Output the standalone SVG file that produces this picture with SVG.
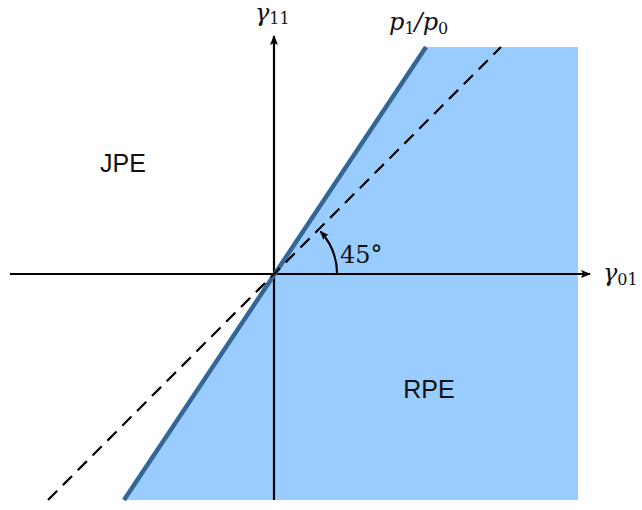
<svg xmlns="http://www.w3.org/2000/svg" width="642" height="510" viewBox="0 0 642 510">
<defs>
<marker id="ah" viewBox="0 0 10 10" refX="9" refY="5" markerWidth="10" markerHeight="10" markerUnits="userSpaceOnUse" orient="auto">
<path d="M0,1 L10,5 L0,9 L2,5 Z" fill="#000"/>
</marker>
<marker id="ah2" viewBox="0 0 10 10" refX="9" refY="5" markerWidth="9" markerHeight="9" markerUnits="userSpaceOnUse" orient="auto">
<path d="M0,1 L10,5 L0,9 L2,5 Z" fill="#000"/>
</marker>
</defs>
<style>
.lbl{font-family:"Liberation Sans",Arial,sans-serif;font-size:25px;fill:#111}
.math{font-family:"DejaVu Serif","Liberation Serif",serif;font-size:24px;fill:#111}
.sub{font-family:"DejaVu Serif","Liberation Serif",serif;font-size:16px;fill:#111}
.ax{stroke:#000;stroke-width:2.2;fill:none}
</style>
<rect width="642" height="510" fill="#fff"/>
<g id="rpe-region">
<polygon points="124,500 426,47 578,47 578,500" fill="#99ccff"/>
</g>
<g id="connectors">
<line class="ax" x1="10" y1="274" x2="590" y2="274" marker-end="url(#ah)"/>
<line class="ax" x1="274" y1="500" x2="274" y2="36" marker-end="url(#ah)"/>
<line x1="124" y1="500" x2="426" y2="47" stroke="#336699" stroke-width="4.5"/>
<line x1="48" y1="500" x2="501" y2="47" stroke="#000" stroke-width="2.2" stroke-dasharray="13,8"/>
<path d="M337,274 A63,63 0 0 0 320.5,231.5" class="ax" stroke-width="1.8" marker-end="url(#ah2)"/>
</g>
<g id="label-gamma11">
<text x="255" y="21" class="math" font-style="italic">γ<tspan class="sub" font-style="normal" dy="3">11</tspan></text>
</g>
<g id="label-p1p0">
<text x="389" y="30" class="math" font-style="italic" font-size="26">p<tspan class="sub" font-style="normal" font-size="18" dy="4">1</tspan><tspan dy="-4">/p</tspan><tspan class="sub" font-style="normal" font-size="18" dy="4">0</tspan></text>
</g>
<g id="label-gamma01">
<text x="603" y="281" class="math" font-style="italic">γ<tspan class="sub" font-style="normal" dy="4">01</tspan></text>
</g>
<g id="label-45">
<text x="340" y="263" class="math">45°</text>
</g>
<g id="jpe">
<text x="123" y="172" class="lbl" text-anchor="middle">JPE</text>
</g>
<g id="rpe">
<text x="429" y="398" class="lbl" text-anchor="middle">RPE</text>
</g>
</svg>
